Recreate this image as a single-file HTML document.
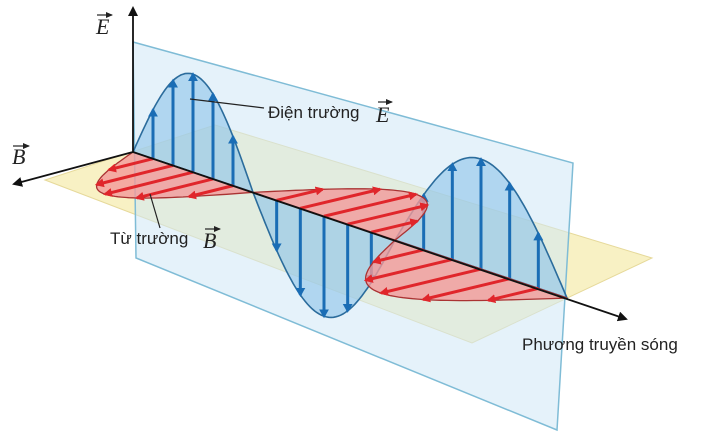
<!DOCTYPE html>
<html><head><meta charset="utf-8"><style>
html,body{margin:0;padding:0;background:#fff;width:716px;height:437px;overflow:hidden}
svg{display:block}
.t{font-family:"Liberation Sans",sans-serif;font-size:17px;fill:#222}
.v{font-family:"Liberation Serif",serif;font-style:italic;font-size:22px;fill:#222}
</style></head><body>
<svg id="s" width="716" height="437" viewBox="0 0 716 437" xmlns="http://www.w3.org/2000/svg">
<defs>
<marker id="ak" markerWidth="10" markerHeight="10" refX="8" refY="5" orient="auto" markerUnits="userSpaceOnUse"><path d="M0,0 L10,5 L0,10 z" fill="#111"/></marker>
<marker id="as" markerWidth="7" markerHeight="6" refX="6" refY="3" orient="auto" markerUnits="userSpaceOnUse"><path d="M0,0 L7,3 L0,6 z" fill="#222"/></marker>
<marker id="ab" markerWidth="9" markerHeight="10" refX="7" refY="5" orient="auto" markerUnits="userSpaceOnUse"><path d="M0,0 L9,5 L0,10 z" fill="#1a6db5"/></marker>
<marker id="ar" markerWidth="9" markerHeight="9" refX="7" refY="4.5" orient="auto" markerUnits="userSpaceOnUse"><path d="M0,0 L9,4.5 L0,9 z" fill="#e0262b"/></marker>
</defs>
<polygon points="45,180 215,125 652,258 472,343" fill="#f8f1c4" stroke="#e6d99a" stroke-width="1"/>
<polygon points="133,42 573,163 557,430 136,258" fill="#cfe8f5" fill-opacity="0.55" stroke="#7fbcd6" stroke-width="1.5"/>
<g id="g2"></g>
<g id="g"></g>
<line x1="133" y1="152" x2="133" y2="8" stroke="#111" stroke-width="1.8" marker-end="url(#ak)"/>
<line x1="133" y1="152" x2="14" y2="184" stroke="#111" stroke-width="1.8" marker-end="url(#ak)"/>
<line x1="133" y1="152" x2="626" y2="319" stroke="#111" stroke-width="1.8" marker-end="url(#ak)"/>
<line x1="190" y1="99" x2="264" y2="108" stroke="#222" stroke-width="1.2"/>
<line x1="150" y1="194" x2="160" y2="228" stroke="#222" stroke-width="1.2"/>
<text class="t" x="268" y="118">Điện trường</text><text class="v" x="376" y="122">E</text>
<line x1="378" y1="102" x2="392" y2="102" stroke="#222" stroke-width="1.2" marker-end="url(#as)"/>
<text class="v" x="96" y="34">E</text><line x1="97" y1="15" x2="112" y2="15" stroke="#222" stroke-width="1.2" marker-end="url(#as)"/>
<text class="v" x="12" y="164">B</text><line x1="13" y1="146" x2="29" y2="146" stroke="#222" stroke-width="1.2" marker-end="url(#as)"/>
<text class="t" x="110" y="244">Từ trường</text><text class="v" x="203" y="248">B</text>
<line x1="205" y1="229" x2="220" y2="229" stroke="#222" stroke-width="1.2" marker-end="url(#as)"/>
<text class="t" x="522" y="350">Phương truyền sóng</text>
</svg>
<script>
var NS="http://www.w3.org/2000/svg";
function ax(x){return 152+(x-133)*0.3364;}
var seg=[[133,253,98],[253,395,100],[395,567,110]];
var D=[[-88,22],[92,-22],[-100,24]];
function pt(t){var i=Math.min(2,Math.floor(t));var f=t-i;var s=seg[i];var x=s[0]+(s[1]-s[0])*f;return [x,ax(x),Math.sin(f*Math.PI),i];}
function E(t){var p=pt(t);var a=seg[p[3]][2]*(p[3]==1?-1:1)*p[2];return [p[0],p[1]-a];}
function B(t){var p=pt(t);var d=D[p[3]];return [p[0]+d[0]*p[2],p[1]+d[1]*p[2]];}
function el(tag,at,par){var e=document.createElementNS(NS,tag);for(var k in at)e.setAttribute(k,at[k]);document.getElementById(par).appendChild(e);return e;}
function path(f,a,b){var s="";for(var i=0;i<=60;i++){var t=a+(b-a)*i/60;var q=f(t);s+=(i?"L":"M")+q[0].toFixed(1)+","+q[1].toFixed(1);}return s;}
for(var k=0;k<3;k++){
 var pa=pt(k);
 el("path",{d:path(B,k,k+0.9999)+"L"+pa[0]+","+pa[1]+"Z",fill:"#f29a9a","fill-opacity":"0.8",stroke:"#a33","stroke-width":"1.3"},"g");
 for(var j=1;j<6;j++){var t=k+j/6;var p=pt(t),q=B(t);if(p[2]<0.2)continue;
  el("line",{x1:p[0],y1:p[1],x2:q[0],y2:q[1],stroke:"#e0262b","stroke-width":"3","marker-end":"url(#ar)"},"g");}
}
for(var k=0;k<3;k++){
 var pa=pt(k);
 el("path",{d:path(E,k,k+0.9999)+"L"+pa[0]+","+pa[1]+"Z",fill:"#8cc3ea","fill-opacity":"0.6",stroke:"#2b6c9c","stroke-width":"1.6"},"g2");
 for(var j=1;j<6;j++){var t=k+j/6;var p=pt(t),q=E(t);if(p[2]<0.2)continue;
  el("line",{x1:p[0],y1:p[1],x2:q[0],y2:q[1],stroke:"#1a6db5","stroke-width":"3","marker-end":"url(#ab)"},"g2");}
}
</script>
</body></html>
